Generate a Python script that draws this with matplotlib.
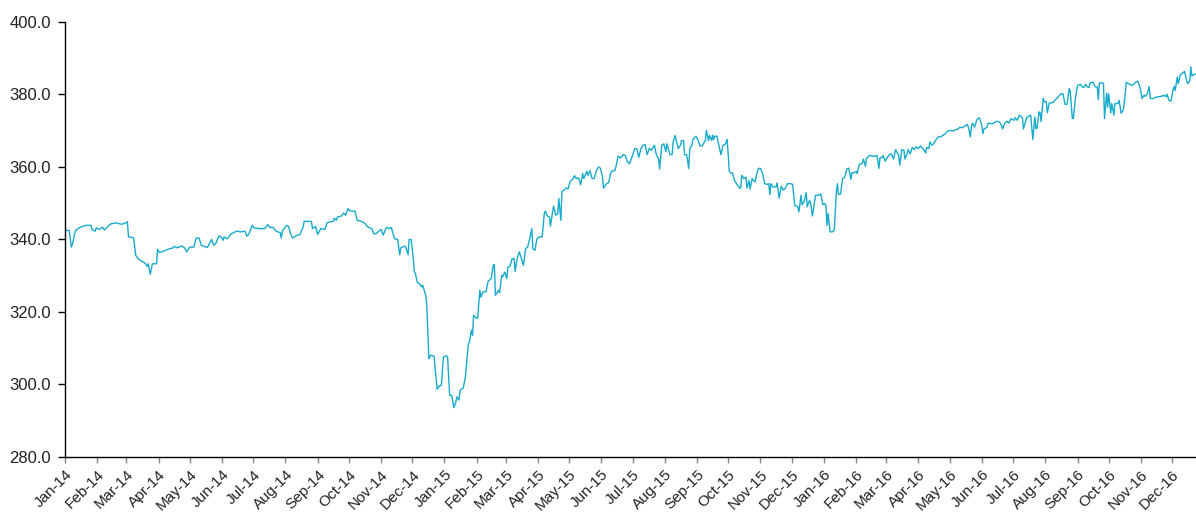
import matplotlib
matplotlib.use("Agg")
import matplotlib.pyplot as plt
import matplotlib.dates as mdates
from matplotlib.ticker import FormatStrFormatter
import pandas as pd

# Trading-day samples: offsets in days since 2014-01-01 and the index level
days_2014 = [0, 4, 6, 7, 10, 14, 20, 25, 26, 29, 30, 33, 36, 38, 41, 44, 49, 54, 57, 60,
             61, 63, 66, 68, 71, 75, 77, 79, 80, 82, 84, 88, 89, 91, 94, 99, 104, 105, 108, 112,
             115, 117, 120, 124, 126, 129, 131, 134, 137, 141, 143, 145, 148, 150, 152,
             153, 156, 160, 165, 169, 173, 175, 177, 180, 182, 187, 192, 195, 197, 200, 203,
             207, 208, 209, 213, 215, 217, 219, 222, 226, 229, 230, 234, 237, 238, 241, 243,
             246, 250, 252, 254, 258, 259, 261, 262, 266, 268, 270, 272, 274, 279, 280, 281,
             285, 288, 291, 295, 297, 299, 302, 304, 306,
             309, 312, 314, 315, 317, 320, 322, 323, 327, 328, 330, 331, 333, 335, 336, 337,
             339, 341, 343, 344, 347, 348, 350, 352, 355, 356, 358, 360, 362]
values_2014 = [342.5, 342.5, 337.9, 338.6, 342.5, 343.3, 343.9, 343.9, 342.7, 342.3, 343.2, 342.8,
               343.4, 342.6, 343.6, 344.3, 344.6, 344.2, 344.4, 344.9,
               340.7, 340.7, 340.4, 335.6, 334.5, 333.8, 333.5, 332.6, 333.3, 330.4, 333.3, 333.3,
               337.3, 336.4, 336.7, 337.3, 337.7, 338.1, 337.7, 338.2,
               337.7, 336.6, 337.9, 337.9, 340.4, 340.4, 338.4, 338.1, 337.8, 340.0, 338.4, 338.9,
               341.0, 340.7, 339.8,
               340.7, 340.2, 341.6, 342.3, 342.1, 342.3, 340.9, 341.6, 343.9, 343.2, 343.0, 343.0,
               344.1, 343.3, 343.4, 342.3,
               341.9, 340.4, 342.3, 343.9, 343.6, 341.6, 340.4, 341.0, 341.4, 343.4, 345.0, 345.0,
               345.0, 343.0, 343.6, 341.4,
               343.0, 342.8, 344.6, 344.8, 345.0, 345.9, 345.3, 346.2, 346.5, 347.3, 346.7, 348.5,
               347.9, 347.8, 346.5, 345.3,
               345.0, 344.6, 343.5, 343.0, 341.6, 341.6, 342.3, 342.8, 341.2,
               343.3, 343.0, 343.3, 342.1, 340.2, 340.0, 335.8, 337.7, 338.2, 337.7, 335.8, 340.0,
               340.0, 334.7, 331.2, 330.6,
               328.1, 327.8, 326.9, 327.4, 324.6, 321.8, 307.1, 308.1, 307.8, 304.4, 298.7, 299.6,
               299.8]

days_2015 = [364, 367, 368, 370, 372, 374, 376, 377, 379, 380, 383, 385, 388, 389, 391, 392, 393,
             396, 397, 399, 400, 402, 405, 407, 410, 412, 413, 414, 417, 418, 420, 421, 423, 425,
             426, 428, 430, 432, 433, 435, 437, 439, 441, 443, 445, 447, 449, 450, 452, 454, 456,
             459, 461,
             462, 464, 466, 467, 469, 470, 472, 474, 475, 477, 478, 480, 482, 484, 486, 489, 490,
             492, 494, 496, 498, 499, 502, 503, 505, 507, 509, 511, 513, 515, 517, 518, 521, 523,
             525, 527, 529, 531, 532, 534, 535, 537, 539, 541, 543, 546, 548, 550, 552, 554, 556,
             558, 560, 562, 564, 567, 569, 571, 572, 574, 576, 578, 579, 582, 584, 585, 587, 588,
             590, 592, 593, 595, 596, 598, 600, 601, 603, 604, 607, 609, 611, 613, 615,
             616, 617, 619, 620, 622, 623, 624, 625, 627, 629, 631, 633, 635, 637, 638, 639, 641,
             642, 644, 646, 649, 650, 651, 653, 655, 656, 658, 659, 661, 662, 664, 665, 667, 669,
             671, 673, 675, 677, 678, 679, 681, 684, 685, 687, 689, 691, 693, 695, 698, 700, 702,
             705, 706, 708, 709, 711, 713, 714, 716, 717, 719, 721, 722, 725, 727, 729]
values_2015 = [307.6, 307.9, 307.6, 297.0, 297.0, 293.6, 295.2, 296.6, 295.7, 298.4, 299.0, 301.8,
               311.3, 311.7, 315.0, 313.6, 319.1,
               318.2, 318.4, 326.0, 324.1, 325.5, 325.6, 328.5, 329.2, 332.9, 333.1, 324.6, 326.0,
               325.3, 330.1, 329.7, 331.0, 329.2,
               332.4, 332.6, 334.7, 334.7, 331.2, 334.9, 336.6, 334.7, 332.9, 337.5, 337.9, 340.2,
               343.0, 337.5, 337.0, 340.2, 340.7,
               340.7, 347.1,
               347.8, 346.5, 346.2, 343.7, 347.6, 349.2, 346.7, 347.1, 351.3, 345.3, 353.3, 353.6,
               354.2, 354.0, 356.1, 356.8, 357.6,
               356.8, 357.0, 355.1, 358.2, 356.8, 358.8, 357.7, 359.0, 356.8, 356.8, 358.8, 360.0,
               359.7, 357.3, 354.2, 355.4, 355.7,
               358.4, 359.0, 359.0, 361.4, 363.0, 362.5, 362.7, 363.4, 363.2, 361.4, 360.9, 363.2,
               365.1, 365.0, 362.7, 365.1, 366.0,
               366.2, 363.4, 365.1, 364.6, 366.0, 363.2, 362.3, 359.4, 366.0, 366.4, 364.2, 366.4,
               363.4, 363.4, 366.9, 368.7, 367.3,
               365.1, 366.0, 367.3, 367.3, 363.4, 363.4, 359.6, 365.1, 366.0, 367.6, 368.5, 367.3,
               365.8, 365.8, 366.9,
               367.3, 370.1, 367.3, 368.7, 367.3, 368.8, 367.6, 368.5, 368.5, 366.0, 363.4, 366.0,
               366.2, 367.6, 363.2, 358.8, 358.2,
               358.4, 356.3, 355.4, 354.2, 354.2, 357.7, 356.8, 357.2, 354.2, 356.3, 353.9, 356.8,
               356.3, 355.9, 357.7, 359.6, 359.6,
               358.2, 355.4, 355.2, 355.4, 352.4, 355.4, 354.5, 354.5, 355.6, 351.4, 354.7, 353.6,
               354.2, 355.4, 355.4, 355.2, 349.4,
               349.0, 347.6, 352.2, 349.6, 350.5, 352.9, 349.0, 350.7, 350.5, 346.5, 350.2, 352.2,
               352.2, 352.6, 349.6]

days_2016 = [731, 732, 733, 734, 736, 738, 740, 742, 743, 744, 746, 748, 750, 752, 754, 756, 757,
             759, 761, 762, 764, 767, 768,
             770, 771, 774, 778, 781, 783, 784, 786, 787, 789, 791, 793, 795, 797, 799, 800, 802,
             803, 805, 807, 808, 810, 811, 813, 815, 817, 819, 821, 823, 826, 828, 829, 831, 832,
             834, 836, 838, 840, 842, 845, 847, 849, 852, 854, 856, 859, 861, 863, 866, 868, 869,
             871, 872, 873, 875, 877, 879, 880, 882, 883, 884, 887, 888, 892, 895, 897, 899, 901,
             902, 904, 906, 908, 910, 913, 914, 916, 918, 921, 922,
             925, 927, 929, 931, 933, 934, 935, 937, 938, 939, 941, 942, 944, 945, 947, 950, 953,
             955, 958, 960, 962, 964, 966, 967, 969, 970, 972, 974, 977, 978, 980, 982, 983, 985,
             986, 989, 991, 993, 994, 995, 998, 999, 1000, 1002, 1003, 1004, 1006, 1007, 1009,
             1010, 1013, 1014, 1016, 1018, 1019, 1021, 1023, 1026, 1028, 1030, 1032, 1034, 1035,
             1036, 1038, 1039, 1041, 1043, 1044, 1047, 1049, 1052, 1055, 1057, 1059, 1060, 1062,
             1064, 1066, 1067, 1068, 1070, 1071, 1073, 1075, 1077, 1079, 1080, 1082, 1083, 1084,
             1086, 1088]
values_2016 = [349.9, 349.4, 343.9, 347.2, 342.1, 342.1, 342.6, 353.1, 355.4, 352.5, 352.5, 356.8,
               357.2, 359.4, 359.7, 356.6, 358.4,
               358.4, 358.8, 358.2, 360.7, 361.0, 362.2,
               360.2, 362.4, 363.2, 362.9, 363.2, 359.6, 362.6, 362.6, 363.2, 361.6, 362.6, 363.4,
               363.6, 362.2, 364.8, 364.2, 363.2,
               360.5, 364.8, 364.6, 362.2, 363.6, 364.8, 363.6, 365.4, 364.8, 365.6, 365.1, 365.8,
               364.8, 363.9, 365.4, 365.1, 366.9,
               366.0, 366.6, 367.6, 368.3, 368.3, 368.8, 369.2, 369.9, 370.1, 369.9, 370.2, 370.5,
               371.0, 370.8, 371.4, 371.7, 371.0,
               368.3, 371.4, 372.1, 371.0, 372.9, 373.6, 373.3, 371.4, 369.2, 370.5, 371.0, 372.1,
               371.9, 372.4, 372.6, 372.4, 371.4,
               370.5, 372.1, 372.6, 372.1, 373.3, 372.9, 373.6, 372.9, 374.3, 373.6, 370.5,
               373.6, 374.0, 374.3, 367.6, 373.8, 370.6, 370.6, 375.2, 375.0, 372.5, 378.9, 378.0,
               378.0, 375.0, 377.7, 377.7, 378.6,
               379.2, 380.2, 380.2, 377.3, 377.3, 381.6, 381.1, 373.4, 373.4, 378.9, 382.5, 382.8,
               382.2, 381.9, 382.8, 382.2, 381.9,
               383.2, 383.4, 382.1, 382.1, 378.6, 383.2, 383.2, 383.0, 373.4, 380.4, 376.5, 380.2,
               374.9, 377.5, 374.3,
               377.5, 377.5, 378.4, 374.8, 375.7, 377.7, 383.4, 383.0, 382.5, 382.8, 383.4, 383.7,
               382.1, 380.7,
               378.9, 379.8, 379.5, 380.1, 382.2, 378.9, 378.9, 379.2, 379.4, 379.5, 379.8, 379.4,
               380.1, 378.4,
               378.2, 381.3, 382.2, 381.1, 384.8, 383.0, 385.5, 385.9, 386.4, 383.8, 383.0, 383.7,
               387.6, 385.1,
               385.5, 385.7]

y_ticks = [280, 300, 320, 340, 360, 380, 400]
start_date = pd.Timestamp("2014-01-01")

days = days_2014 + days_2015 + days_2016
values = values_2014 + values_2015 + values_2016
dates = start_date + pd.to_timedelta(days, unit="D")

plt.rcParams["font.family"] = ["Liberation Sans", "DejaVu Sans"]

fig = plt.figure(figsize=(11.96, 5.14), dpi=100)
ax = fig.add_axes([0.0544, 0.1109, 0.9456, 0.8463])

ax.plot(dates, values, color="#17ABCB", linewidth=1.0)

ax.set_ylim(y_ticks[0], y_ticks[-1])
ax.set_yticks(y_ticks)
ax.yaxis.set_major_formatter(FormatStrFormatter("%.1f"))
ax.set_xlim(dates[0], dates[-1])
ax.xaxis.set_major_locator(mdates.MonthLocator())
ax.xaxis.set_major_formatter(mdates.DateFormatter("%b-%y"))

for s in ["top", "right"]:
    ax.spines[s].set_visible(False)
for s in ["left", "bottom"]:
    ax.spines[s].set_linewidth(1.0)
    ax.spines[s].set_color("black")

ax.tick_params(axis="y", direction="out", length=5, width=1, color="black",
               labelsize=12, pad=5, labelcolor="#222222")
ax.tick_params(axis="x", direction="out", length=4, width=1, color="#888888",
               labelsize=11, pad=3.5, labelcolor="#222222")
for lbl in ax.get_xticklabels():
    lbl.set_rotation(45)
    lbl.set_ha("right")
    lbl.set_rotation_mode("anchor")

fig.savefig("out.png", dpi=100)
